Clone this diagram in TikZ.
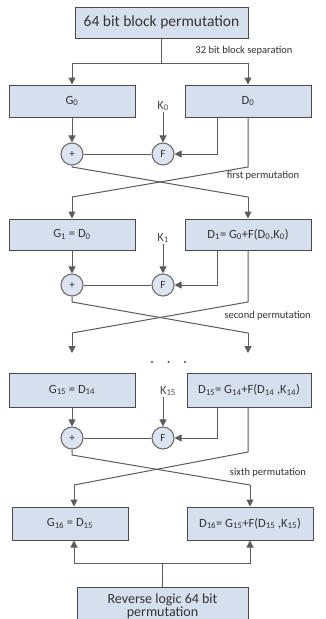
\documentclass[tikz,border=0pt]{standalone}
\usepackage{fontspec}
\setmainfont{Carlito}
\usetikzlibrary{arrows.meta}
\definecolor{boxfill}{HTML}{D5DFEE}
\definecolor{circfill}{HTML}{DCE4F2}
\definecolor{edge}{HTML}{4A4A4A}
\newcommand{\sbs}[1]{\textsubscript{#1}}
\tikzset{
  blk/.style={draw=edge, line width=1pt, fill=boxfill, minimum height=32pt, inner sep=1pt, font=\fontsize{12.5}{13}\selectfont, text=black!80},
  op/.style={circle, draw=edge!80, line width=1.1pt, fill=circfill, minimum size=22pt, inner sep=0pt, font=\fontsize{11}{12}\selectfont, text=black!80},
  ln/.style={draw=edge!90, line width=1pt},
  arr/.style={ln, -{Triangle[length=7pt,width=7pt]}},
  lbl/.style={font=\fontsize{10.5}{12}\selectfont, text=black!80},
  klbl/.style={font=\fontsize{12.5}{13}\selectfont, text=black!70, inner sep=1pt},
}
\begin{document}
\begin{tikzpicture}[x=1pt,y=-1pt]
\useasboundingbox[fill=white] (0,0) rectangle (325,619);

% top box
\node[blk, minimum width=173pt, minimum height=31pt, font=\fontsize{15.5}{16}\selectfont] (top) at (161.5,22.5) {64 bit block permutation};
\node[lbl] (sep) at (244,51) {32 bit block separation};
\coordinate (tsplit) at (161.5,63);

% round 0
\node[blk, minimum width=126pt] (G0) at (72,101) {G\sbs{0}};
\node[blk, minimum width=126pt] (D0) at (248,101) {D\sbs{0}};
\node[klbl] (K0) at (163,106) {K\sbs{0}};
\node[op] (P0) at (72,154) {+};
\node[op] (F0) at (163,154) {F};

\draw[ln] (top.south) -- (tsplit);
\draw[arr] (tsplit) -| (G0.north);
\draw[arr] (tsplit) -| (D0.north);
\draw[arr] (G0.south) -- (P0.north);
\draw[arr] (K0.south) -- (F0.north);
\draw[ln] (P0.east) -- (F0.west);
\draw[arr] (D0.south -| 217,0) |- (F0.east);

% round 1
\node[blk, minimum width=126pt, minimum height=31pt] (G1) at (72,234.5) {G\sbs{1} = D\sbs{0}};
\node[blk, minimum width=126pt, minimum height=31pt] (D1) at (248,234.5) {D\sbs{1}= G\sbs{0}+F(D\sbs{0},K\sbs{0})};
\node[klbl] (K1) at (163,238) {K\sbs{1}};
\node[op] (P1) at (72,285) {+};
\node[op] (F1) at (163,285) {F};
\node[lbl] (perm1) at (263,176) {first permutation};

\coordinate (a1) at (72,167);
\coordinate (b1) at (248,197);
\coordinate (c1) at (248,167);
\coordinate (d1) at (72,197);
\draw[ln] (P0.south) -- (a1) -- (b1);
\draw[arr] (b1) -- (D1.north);
\draw[ln] (D0.south) -- (c1) -- (d1);
\draw[arr] (d1) -- (G1.north);

\draw[arr] (G1.south) -- (P1.north);
\draw[arr] (K1.south) -- (F1.north);
\draw[ln] (P1.east) -- (F1.west);
\draw[arr] (D1.south -| 217,0) |- (F1.east);

% second permutation
\node[lbl, anchor=west] (perm2) at (221,316) {second permutation};
\coordinate (a2) at (72,302);
\coordinate (b2) at (248,333);
\coordinate (c2) at (248,302);
\coordinate (d2) at (72,333);
\coordinate (e2) at (248,353);
\coordinate (f2) at (72,353);
\draw[ln] (P1.south) -- (a2) -- (b2);
\draw[arr] (b2) -- (e2);
\draw[ln] (D1.south) -- (c2) -- (d2);
\draw[arr] (d2) -- (f2);

% dots
\fill[edge] (152,362) circle (1.2pt);
\fill[edge] (168.5,362) circle (1.2pt);
\fill[edge] (185,362) circle (1.2pt);

% round 15
\node[blk, minimum width=126pt, minimum height=34pt] (G15) at (72,390) {G\sbs{15} = D\sbs{14}};
\node[blk, minimum width=124pt, minimum height=34pt] (D15) at (249,390) {D\sbs{15}= G\sbs{14}+F(D\sbs{14} ,K\sbs{14})};
\node[klbl] (K15) at (168,391) {K\sbs{15}};
\node[op] (P15) at (72,438) {+};
\node[op] (F15) at (163,438) {F};

\draw[arr] (G15.south) -- (P15.north);
\draw[arr] (K15.south -| F15.north) -- (F15.north);
\draw[ln] (P15.east) -- (F15.west);
\draw[arr] (D15.south -| 217,0) |- (F15.east);

% sixth permutation
\node[lbl] (perm6) at (268,473) {sixth permutation};
\node[blk, minimum width=116pt, minimum height=33pt] (G16) at (70,523.5) {G\sbs{16} = D\sbs{15}};
\node[blk, minimum width=126pt, minimum height=33pt] (D16) at (250,523.5) {D\sbs{16}= G\sbs{15}+F(D\sbs{15} ,K\sbs{15})};
\coordinate (a3) at (72,455);
\coordinate (b3) at (250,485);
\coordinate (c3) at (248,452);
\coordinate (d3) at (74,485);
\draw[ln] (P15.south) -- (a3) -- (b3);
\draw[arr] (b3) -- (b3 |- D16.north);
\draw[ln] (D15.south -| c3) -- (c3) -- (d3);
\draw[arr] (d3) -- (d3 |- G16.north);

% final
\node[blk, minimum width=171pt, minimum height=38pt, align=center, font=\fontsize{14}{12}\selectfont] (rev) at (162.5,606) {Reverse logic 64 bit\\permutation};
\coordinate (rsplit) at (162.5,563);
\draw[ln] (rev.north) -- (rsplit);
\draw[arr] (rsplit) -| (G16.south -| d3);
\draw[arr] (rsplit) -| (D16.south -| b3);
\end{tikzpicture}
\end{document}
